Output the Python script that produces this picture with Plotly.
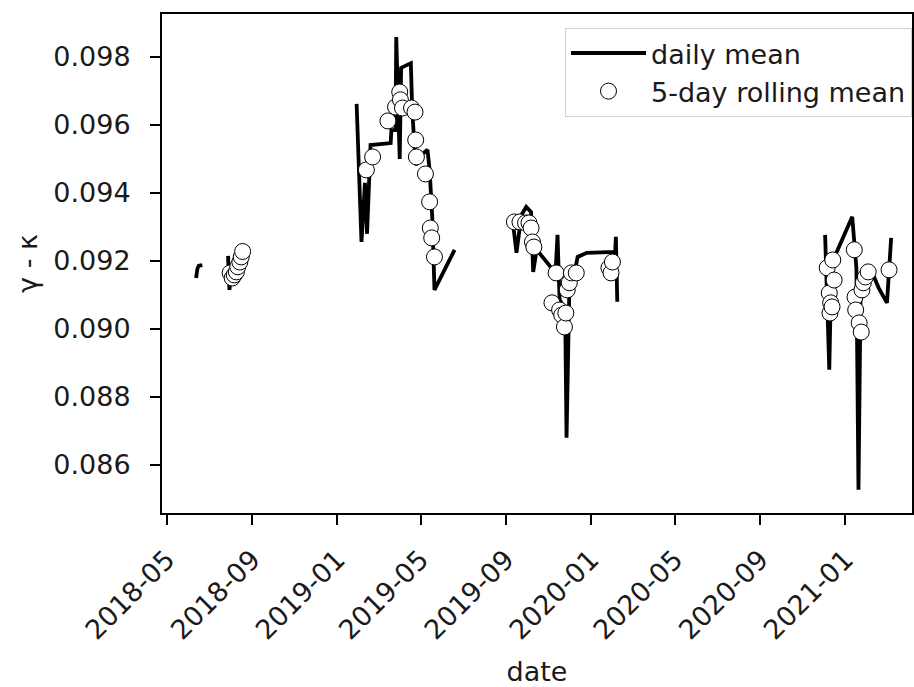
import plotly.graph_objects as go

# ---- daily mean (None = gap in the record, line breaks there) ----
daily_dates = [
    "2018-06-12", "2018-06-14", "2018-06-16", "2018-06-21",
    "2018-07-01",
    "2018-07-28", "2018-07-30", "2018-08-02", "2018-08-06", "2018-08-10", "2018-08-14", "2018-08-19",
    "2018-12-01",
    "2019-01-29", "2019-02-05", "2019-02-10", "2019-02-13", "2019-02-18", "2019-03-19", "2019-03-20",
    "2019-03-26", "2019-03-27", "2019-04-01", "2019-04-03", "2019-04-17", "2019-04-19", "2019-04-24",
    "2019-05-01", "2019-05-11", "2019-05-14", "2019-05-18", "2019-05-21", "2019-06-19",
    "2019-08-01",
    "2019-09-10", "2019-09-16", "2019-09-23", "2019-09-30", "2019-10-07", "2019-10-10", "2019-10-15",
    "2019-11-02", "2019-11-11", "2019-11-14", "2019-11-17", "2019-11-25", "2019-11-27", "2019-12-01",
    "2019-12-07", "2019-12-13", "2019-12-26", "2020-02-05", "2020-02-06", "2020-02-08",
    "2020-06-01",
    "2020-12-03", "2020-12-09", "2020-12-11", "2020-12-14", "2021-01-11", "2021-01-17", "2021-01-20",
    "2021-01-23", "2021-01-29", "2021-02-07", "2021-02-18", "2021-03-02", "2021-03-08",
]
daily_values = [
    0.09150, 0.09178, 0.09186, 0.09188,
    None,
    0.09215, 0.09115, 0.09174, 0.09136, 0.09188, 0.09209, 0.09233,
    None,
    0.09662, 0.09256, 0.09430, 0.09280, 0.09541, 0.09547, 0.09585,
    0.09585, 0.09859, 0.09500, 0.09768, 0.09782, 0.09644, 0.09482,
    0.09510, 0.09527, 0.09468, 0.09321, 0.09115, 0.09233,
    None,
    0.09327, 0.09224, 0.09335, 0.09359, 0.09344, 0.09168, 0.09233,
    0.09188, 0.09159, 0.09277, 0.09086, 0.09056, 0.08680, 0.09115,
    0.09150, 0.09212, 0.09224, 0.09227, 0.09271, 0.09080,
    None,
    0.09277, 0.08880, 0.09080, 0.09200, 0.09330, 0.09180, 0.08527,
    0.09100, 0.09159, 0.09174, 0.09121, 0.09077, 0.09268,
]

# ---- 5-day rolling mean ----
roll_dates = [
    "2018-07-31", "2018-08-03", "2018-08-06", "2018-08-09", "2018-08-11", "2018-08-14", "2018-08-16", "2018-08-18",
    "2019-02-12", "2019-02-21", "2019-03-15", "2019-03-26", "2019-04-01", "2019-04-02", "2019-04-05",
    "2019-04-18", "2019-04-23", "2019-04-24", "2019-04-25", "2019-05-08", "2019-05-14", "2019-05-15",
    "2019-05-17", "2019-05-21",
    "2019-09-13", "2019-09-21", "2019-09-29", "2019-10-04", "2019-10-07", "2019-10-09", "2019-10-11",
    "2019-11-06", "2019-11-12", "2019-11-17", "2019-11-20", "2019-11-24", "2019-11-26", "2019-11-28",
    "2019-12-01", "2019-12-04", "2019-12-11", "2020-01-27", "2020-01-30", "2020-02-01",
    "2020-12-06", "2020-12-09", "2020-12-10", "2020-12-11", "2020-12-13", "2020-12-14", "2020-12-16",
    "2021-01-14", "2021-01-15", "2021-01-16", "2021-01-21", "2021-01-24", "2021-01-25", "2021-01-27",
    "2021-01-30", "2021-02-03", "2021-03-05",
]
roll_values = [
    0.09165, 0.09150, 0.09159, 0.09168, 0.09183, 0.09197, 0.09212, 0.09228,
    0.09468, 0.09506, 0.09612, 0.09653, 0.09697, 0.09674, 0.09650,
    0.09650, 0.09638, 0.09556, 0.09506, 0.09456, 0.09374, 0.09297,
    0.09268, 0.09212,
    0.09315, 0.09315, 0.09312, 0.09312, 0.09297, 0.09256, 0.09241,
    0.09077, 0.09165, 0.09056, 0.09041, 0.09006, 0.09047, 0.09115,
    0.09136, 0.09165, 0.09165, 0.09180, 0.09165, 0.09197,
    0.09180, 0.09106, 0.09047, 0.09077, 0.09065, 0.09203, 0.09144,
    0.09233, 0.09094, 0.09056, 0.09018, 0.08991, 0.09115, 0.09136,
    0.09153, 0.09168, 0.09174,
]

y_ticks = [0.086, 0.088, 0.090, 0.092, 0.094, 0.096, 0.098]

FONT = "DejaVu Sans"
TXT = "#1a1a1a"

fig = go.Figure()
fig.add_trace(go.Scatter(
    x=daily_dates, y=daily_values, mode="lines", name="daily mean",
    line=dict(color="black", width=3.8), connectgaps=False,
))
fig.add_trace(go.Scatter(
    x=roll_dates, y=roll_values, mode="markers", name="5-day rolling mean",
    marker=dict(size=16, color="white", line=dict(color="black", width=1)),
))

fig.update_layout(
    width=914, height=687,
    margin=dict(l=162, r=0, t=14, b=174),
    paper_bgcolor="white", plot_bgcolor="white",
    font=dict(family=FONT, size=27, color=TXT),
    showlegend=True,
    legend=dict(
        x=1.0, y=0.972, xanchor="right", yanchor="top",
        bgcolor="rgba(255,255,255,0.8)", bordercolor="#d0d0d0", borderwidth=1,
        font=dict(family=FONT, size=27, color=TXT),
        itemwidth=75, tracegroupgap=0,
    ),
)
fig.update_xaxes(
    type="date", range=["2018-04-24", "2021-04-07"],
    tick0="2018-05-01", dtick="M4", tickformat="%Y-%m", tickangle=-45,
    showgrid=False, zeroline=False,
    showline=True, linecolor="black", linewidth=2, mirror=True,
    ticks="outside", ticklen=10, tickwidth=2, tickcolor="black",
    tickfont=dict(family=FONT, size=27, color=TXT),
    ticklabelstandoff=8,
    title=dict(text="date", font=dict(family=FONT, size=27, color=TXT), standoff=18),
)
fig.update_yaxes(
    range=[0.084588, 0.099265],
    tickvals=y_ticks, tickformat=".3f",
    showgrid=False, zeroline=False,
    showline=True, linecolor="black", linewidth=2, mirror=True,
    ticks="outside", ticklen=10, tickwidth=2, tickcolor="black",
    tickfont=dict(family=FONT, size=27, color=TXT),
    ticklabelstandoff=14,
    title=dict(text="γ - κ", font=dict(family=FONT, size=27, color=TXT), standoff=8),
)

fig.write_html("out.html")
